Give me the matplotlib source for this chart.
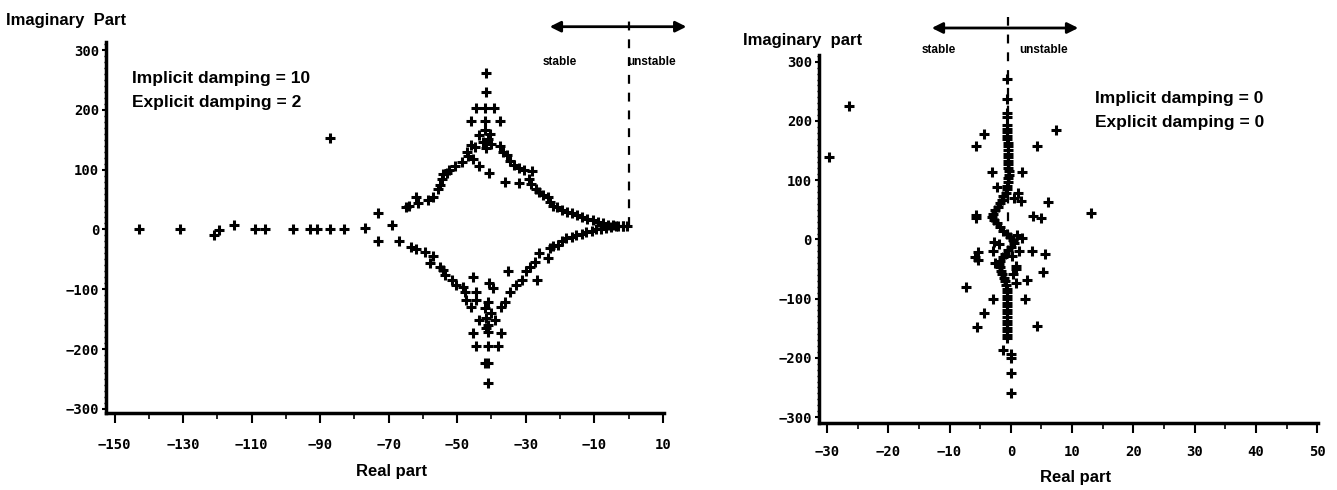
import numpy as np
import matplotlib
matplotlib.use("Agg")
import matplotlib.pyplot as plt
from matplotlib.ticker import MultipleLocator

# eigenvalues, left panel (implicit damping 10, explicit damping 2)
left_re = [-143, -131, -121, -119.5, -115, -109, -106, -98, -93, -91, -87, -83, -77, -73, -69,
           -87,
           -65, -64, -62, -61.5, -58.5, -57, -55.5, -55, -54.5, -54, -53, -52.5, -50.5, -48.5,
           -46.7, -45.4, -47, -44.7, -43.5, -40.6,
           -41.5, -41.5, -44.4, -41.8, -39.3, -45.9, -41.8, -37.6, -42, -40.5, -43.5, -41, -42.5,
           -40, -41.5, -45.9, -37.6,
           -36.5, -35.6, -34.5, -33.5, -32, -30.5, -28.2, -36.1, -31.9, -29, -28.5, -27, -26, -25,
           -23.4, -23, -22, -21, -19.5, -18, -16.5, -15, -13.5, -12, -10.5, -9, -7.5, -6, -4.5,
           -3, -1.5, -0.5,
           -73, -67, -63.5, -62, -59.5, -57, -58, -55, -54, -53.5, -51.5, -50.3, -48.3, -47.8,
           -44.4, -44.4, -47.3, -45.3, -45.9,
           -40.6, -39.6, -41, -42, -40, -41.5, -43.5, -39.1, -41, -41.5, -45.3, -40.9, -37.1,
           -44.4, -40.9, -38.1, -41.9, -40.9, -40.9,
           -35.1, -37.1, -36.1, -34.6, -32.7, -31.2, -29.8, -28.8, -27.3, -26.8, -26, -23.5, -23,
           -22, -20.6, -19.5, -18.1, -16.5, -15.2, -13.7, -12.3, -10.8, -9.4, -8, -6.5, -5, -3.6,
           -1.6]
left_im = [0, 0, -9, -1, 8, 0, 0, 0, 0, 0, 0, 0, 3, 27, 8,
           153,
           38, 40, 55, 45, 49, 55, 67, 75, 85, 92, 95, 100, 106, 112,
           122, 118, 130, 138, 106, 94,
           261, 230, 203, 203, 203, 181, 181, 181, 166, 160, 158, 152, 146,
           143, 137, 141, 140,
           130, 124, 115, 108, 103, 100, 98, 80, 77, 85, 76, 68, 62, 57,
           55, 46, 40, 37, 33, 30, 27, 24, 21, 18, 15, 12, 10, 8, 7,
           6, 5, 5,
           -19, -19, -29, -32, -37, -45, -56, -62, -67, -76, -84, -93, -96, -104,
           -104, -118, -118, -80, -130,
           -90, -98, -122, -132, -140, -148, -151, -151, -160, -165, -173, -172, -173,
           -195, -195, -195, -224, -224, -256,
           -69, -130, -121, -104, -93, -84, -70, -62, -54, -84, -40, -48, -31,
           -28, -26, -20, -15, -12, -9, -7, -5, -3, 0, 1, 3, 4, 5,
           6]

# eigenvalues, right panel (no damping)
right_re = [-26.4, -29.7, -0.6, -0.6, -0.6, -0.6, -4.3, -5.6, 7.3, 4.2, -3.0, 1.9, -2.3, 1.6,
            6.0, -5.6, -5.6, 3.6, 5.0, 13.1, -2.8, -5.4, -5.8, -5.4, -2.9, 1.3, 3.4, 5.5, -7.3,
            0.8, 5.2, 2.7, 0.9, -2.9, 2.3, -4.4, -5.5, 4.3, -1.3, 0.0, 0.0, 0.0, 0.0,
            -0.6, -0.6, -0.6, -0.6, -0.6, -0.5, -0.5, -0.5, -0.5, -0.4, -0.4, -0.4, -0.4, -0.3,
            -0.3, -0.4, -0.5, -0.6, -0.7, -0.8, -1.2, -1.5, -1.8, -2.1, -2.5, -2.9, -3.1, -2.7,
            -2.2, -1.7, -1.2, -0.6, -0.2, 0.3, 0.5, 0.0, -0.5, -0.9, -1.3, -1.8, -2.0, -1.8,
            -1.6, -1.4, -1.1, -0.9, -0.8, -0.7, -0.6, -0.6, -0.6, -0.6, -0.6, -0.6, -0.6, -0.6,
            -0.6, -0.6, -0.6, -0.6, -0.6, -0.6,
            1.2, 0.5, 1.0, 1.8, -2.0, 0.8, 0.3, -2.5, 0.2]
right_im = [225, 139, 271, 237, 214, 206, 178, 157, 185, 158, 113, 113, 88, 65,
            63, 41, 36, 40, 36, 44, -4, -22, -29, -34, -19, -20, -20, -24, -80,
            -50, -55, -68, -74, -101, -101, -125, -148, -147, -186, -193, -200, -226, -260,
            193, 187, 181, 175, 169, 163, 157, 151, 145, 139, 133, 127, 121, 115,
            109, 103, 97, 91, 85, 79, 73, 67, 61, 55, 49, 43, 38, 33,
            27, 21, 15, 9, 4, -1, -6, -12, -18, -24, -30, -36, -41, -47,
            -53, -59, -65, -71, -77, -83, -89, -95, -101, -107, -113, -119, -125, -131,
            -137, -143, -149, -155, -161, -167,
            78, 70, 8, 2, -8, -45, -58, -40, -28]

left_xticks = [-150, -130, -110, -90, -70, -50, -30, -10, 10]
right_xticks = [-30, -20, -10, 0, 10, 20, 30, 40, 50]
yticks = [-300, -200, -100, 0, 100, 200, 300]

plt.rcParams['font.family'] = ['Liberation Sans', 'DejaVu Sans']

fig = plt.figure(figsize=(13.37, 4.90), dpi=100)
ax1 = fig.add_axes([0.0795, 0.157, 0.4175, 0.758])
ax2 = fig.add_axes([0.6125, 0.1373, 0.3733, 0.7507])

mk = dict(marker='+', linestyle='none', color='black', markersize=7, markeredgewidth=2.2)
ax1.plot(left_re, left_im, **mk)
ax2.plot(right_re, right_im, **mk)

ax1.set_xlim(-152.4, 10.5)
ax1.set_ylim(-307, 314)
ax2.set_xlim(-31.3, 50.1)
ax2.set_ylim(-309.5, 311.6)

ax1.set_xticks(left_xticks)
ax1.xaxis.set_minor_locator(MultipleLocator(10))
ax2.set_xticks(right_xticks)
ax2.xaxis.set_minor_locator(MultipleLocator(5))

for ax, xpad in ((ax1, 11), (ax2, 9)):
    ax.set_yticks(yticks)
    ax.yaxis.set_minor_locator(MultipleLocator(10))
    ax.spines['top'].set_visible(False)
    ax.spines['right'].set_visible(False)
    ax.spines['left'].set_linewidth(2.5)
    ax.spines['bottom'].set_linewidth(2.5)
    ax.tick_params(axis='x', which='major', direction='out', length=7, width=1.5, pad=xpad)
    ax.tick_params(axis='x', which='minor', direction='out', length=4, width=1.2)
    ax.tick_params(axis='y', which='major', direction='out', length=3, width=1.5, pad=2)
    ax.tick_params(axis='y', which='minor', direction='out', length=1.5, width=1)
    for lab in ax.get_xticklabels() + ax.get_yticklabels():
        lab.set_fontfamily('DejaVu Sans Mono')
        lab.set_fontweight('bold')
        lab.set_fontsize(10)

# stability boundary and arrows
ax1.plot([0, 0], [5, 359], linestyle=(0, (4, 4)), color='black', lw=1.6, clip_on=False, zorder=1)
ax1.annotate('', xy=(16.9, 339), xytext=(-23, 339), annotation_clip=False,
             arrowprops=dict(arrowstyle='<|-|>', lw=2, color='black', mutation_scale=16,
                             shrinkA=0, shrinkB=0))
ax1.text(-20.1, 280, 'stable', fontsize=8.5, fontweight='bold', ha='center', va='center')
ax1.text(6.8, 280, 'unstable', fontsize=8.5, fontweight='bold', ha='center', va='center')

ax2.plot([-0.5, -0.5], [0, 376], linestyle=(0, (4, 4)), color='black', lw=1.6, clip_on=False, zorder=1)
ax2.annotate('', xy=(11.0, 357), xytext=(-12.9, 357), annotation_clip=False,
             arrowprops=dict(arrowstyle='<|-|>', lw=2, color='black', mutation_scale=16,
                             shrinkA=0, shrinkB=0))
ax2.text(-11.7, 320, 'stable', fontsize=8.5, fontweight='bold', ha='center', va='center')
ax2.text(5.3, 320, 'unstable', fontsize=8.5, fontweight='bold', ha='center', va='center')

# labels and annotations
W, H = 1337.0, 490.0
def ft(x, y, s, **kw):
    fig.text(x / W, 1 - y / H, s, **kw)

ft(6, 20, 'Imaginary  Part', fontsize=12, fontweight='bold', ha='left', va='center')
ft(392, 471, 'Real part', fontsize=12, fontweight='bold', ha='center', va='center')
ft(743, 40, 'Imaginary  part', fontsize=12, fontweight='bold', ha='left', va='center')
ft(1076, 477, 'Real part', fontsize=12, fontweight='bold', ha='center', va='center')

ft(132, 78, 'Implicit damping = 10', fontsize=12.5, fontweight='bold', ha='left', va='center')
ft(132, 102, 'Explicit damping = 2', fontsize=12.5, fontweight='bold', ha='left', va='center')
ft(1095, 98, 'Implicit damping = 0', fontsize=12.5, fontweight='bold', ha='left', va='center')
ft(1095, 122, 'Explicit damping = 0', fontsize=12.5, fontweight='bold', ha='left', va='center')

fig.savefig('out.png', dpi=100, facecolor='white')
